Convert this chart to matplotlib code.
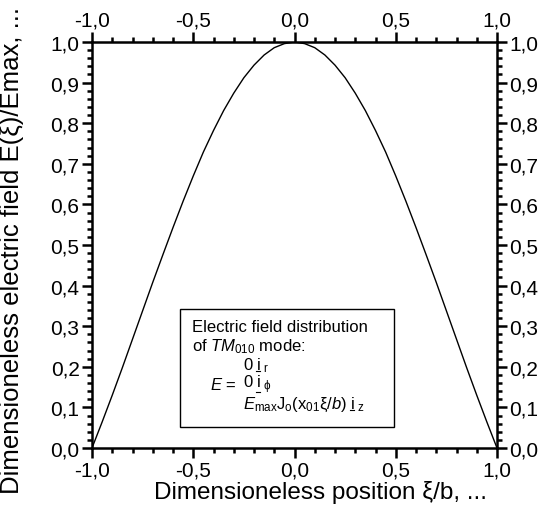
import matplotlib
matplotlib.use('Agg')
import matplotlib.pyplot as plt
from matplotlib.ticker import MultipleLocator, FuncFormatter
from matplotlib.lines import Line2D

plt.rcParams['font.family'] = ['Liberation Sans', 'DejaVu Sans']
plt.rcParams['mathtext.fontset'] = 'custom'
plt.rcParams['mathtext.rm'] = 'Liberation Sans'
plt.rcParams['mathtext.it'] = 'Liberation Sans:italic'
plt.rcParams['mathtext.default'] = 'regular'

### data #############################
xi = [-1.0, -0.95, -0.9, -0.85, -0.8, -0.75, -0.7, -0.65, -0.6, -0.55, -0.5,
      -0.45, -0.4, -0.35, -0.3, -0.25, -0.2, -0.15, -0.1, -0.05, 0.0,
      0.05, 0.1, 0.15, 0.2, 0.25, 0.3, 0.35, 0.4, 0.45, 0.5,
      0.55, 0.6, 0.65, 0.7, 0.75, 0.8, 0.85, 0.9, 0.95, 1.0]
e_ratio = [0.0, 0.064, 0.130, 0.198, 0.268, 0.338, 0.408, 0.476, 0.543, 0.608, 0.670,
           0.729, 0.782, 0.831, 0.874, 0.912, 0.943, 0.968, 0.986, 0.996, 1.0,
           0.996, 0.986, 0.968, 0.943, 0.912, 0.874, 0.831, 0.782, 0.729, 0.670,
           0.608, 0.543, 0.476, 0.408, 0.338, 0.268, 0.198, 0.130, 0.064, 0.0]
x_label = 'Dimensioneless position ξ/b, ...'
y_label = 'Dimensioneless electric field E(ξ)/Emax, ...'
####################

W, H = 551, 510
fig = plt.figure(figsize=(W / 100, H / 100), dpi=100)
ax = fig.add_axes([92 / W, 1 - 449 / H, (497 - 92) / W, (449 - 43) / H])

ax.plot(xi, e_ratio, c='k', lw=1.0)
ax.set_xlim(-1, 1)
ax.set_ylim(0, 1)

comma = FuncFormatter(lambda v, p: f'{v:.1f}'.replace('.', ','))
ax.xaxis.set_major_locator(MultipleLocator(0.5))
ax.xaxis.set_minor_locator(MultipleLocator(0.1))
ax.yaxis.set_major_locator(MultipleLocator(0.1))
ax.yaxis.set_minor_locator(MultipleLocator(0.02))
ax.xaxis.set_major_formatter(comma)
ax.yaxis.set_major_formatter(comma)

ax.tick_params(which='both', direction='out', top=True, right=True,
               labeltop=True, labelright=True, width=1.8, colors='k')
ax.tick_params(which='major', length=7.5, labelsize=15, pad=1.5)
ax.tick_params(which='minor', length=3.6)
for s in ax.spines.values():
    s.set_linewidth(1.8)

ax.set_xlabel(x_label, fontsize=17.5)
ax.set_ylabel(y_label, fontsize=18.5)
# label positions (axes fraction)
ax.xaxis.set_label_coords((321 - 92) / 405, -(493 - 449) / 406)
ax.xaxis.label.set_va('center')
ax.yaxis.set_label_coords(-(92 - 24) / 405, 0.49)

# info box
ax.add_patch(plt.Rectangle((180 / W, 1 - 428 / H), (394 - 180) / W, (428 - 310) / H,
                           transform=fig.transFigure, fill=False, lw=1.0, ec='k', zorder=5))
fs = 12
def ft(px, py, s, **kw):
    return fig.text(px / W, 1 - py / H, s, fontsize=fs, va='center', ha='left', **kw)

ft(192, 327, 'Electric field distribution')
ft(192, 347, r'of $\mathit{TM}_{010}$ mode:')
t1 = ft(243, 366, r'0 i$_{\ r}$')
ft(210, 385, r'$\mathit{E}$ =')
t2 = ft(243, 385, r'0 i$_{\ \phi}$')
t3 = ft(243, 405, r'$\mathit{E}_{max}$J$_o$(x$_{01}$ξ/$\mathit{b}$) i$_{\ z}$')

# underline the unit vectors
fig.canvas.draw()
r = fig.canvas.get_renderer()
for t, pre in [(t1, '0 '), (t2, '0 '), (t3, None)]:
    bb = t.get_window_extent(r)
    if pre is not None:
        x0 = bb.x0 + 13
    else:
        x0 = bb.x1 - 15
    y0 = bb.y0 + 3
    fig.add_artist(Line2D([x0 / W, (x0 + 4) / W], [y0 / H, y0 / H], color='k', lw=0.8))

fig.savefig('out.png', dpi=100)
